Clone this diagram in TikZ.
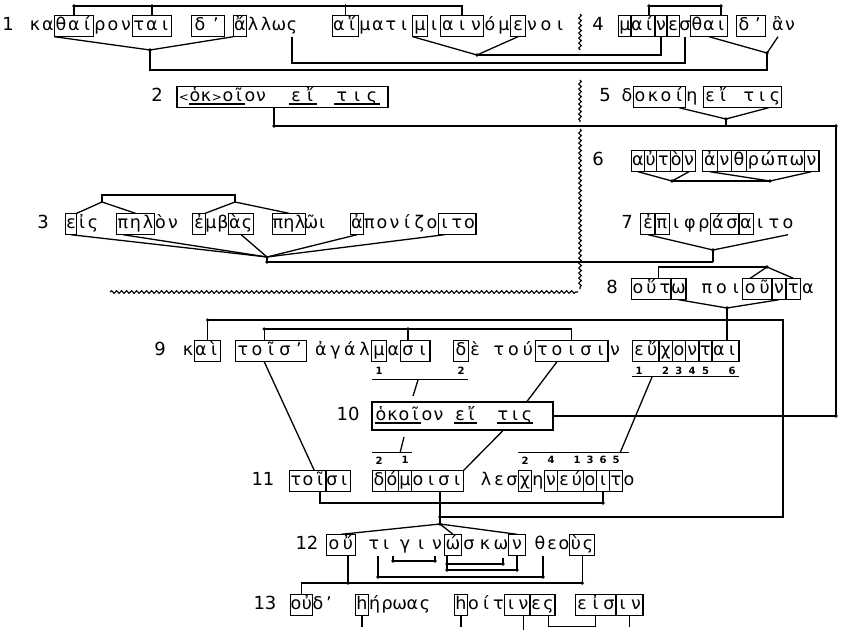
\documentclass[tikz,border=0pt]{standalone}
\usepackage{fontspec}
\setmainfont{DejaVu Sans}
\usetikzlibrary{decorations.pathmorphing}
\tikzset{
  ch/.style={inner sep=0pt, text height=12pt, text depth=4pt, minimum height=21pt, font=\fontsize{17.5}{19}\selectfont},
  num/.style={inner sep=0pt, text height=12pt, text depth=4pt, font=\fontsize{18}{20}\selectfont},
  sm/.style={inner sep=0pt, font=\fontsize{10}{11}\selectfont\bfseries},
  bxs/.style={line width=1.1pt},
  cn/.style={line width=1.3pt},
  wavy/.style={decorate, decoration={snake, amplitude=1.3pt, segment length=5pt}, line width=1.1pt},
}
\newcommand\wrd[5]{\foreach \gl [count=\gi] in {#5}{\node[ch, minimum width=#4pt] (#1-\gi) at ({#2+(\gi-1)*#4},#3) {\gl};}}
\newcommand\bx[3]{\draw[bxs] (#1-#2.north west) rectangle (#1-#3.south east);}
\newcommand\ul[3]{\draw[bxs] ([yshift=-3pt]#1-#2.base west) -- ([yshift=-3pt]#1-#3.base east);}
\newcommand\dt[1]{\fill (#1) circle (1.8pt);}
\newcommand\langl{{\fontsize{12}{13}\selectfont<}}
\newcommand\rangl{{\fontsize{12}{13}\selectfont>}}
\begin{document}
\begin{tikzpicture}[x=1pt,y=-1pt]
\fill[white] (0,0) rectangle (843,635);
\useasboundingbox (0,0) rectangle (843,635);

% ---------- line 1
\node[num] (n1) at (8,26) {1};
\wrd{a}{35}{26}{13}{κ,α,θ,α,ί,ρ,ο,ν,τ,α,ι}
\wrd{b}{200}{26}{16}{δ,’}
\wrd{c}{240}{26}{13}{ἄ,λ,λ,ω,ς}
\wrd{d}{339}{26}{13}{α,ἵ,μ,α,τ,ι}
\wrd{e}{420}{26}{14}{μ,ι,α,ι,ν,ό,μ,ε,ν,ο,ι}
\bx{a}{3}{5}\bx{a}{9}{11}\bx{b}{1}{2}\bx{c}{1}{1}\bx{d}{1}{2}\bx{e}{1}{1}\bx{e}{3}{5}\bx{e}{8}{8}
% ---------- line 4
\node[num] (n4) at (598,26) {4};
\wrd{f}{625}{26}{12}{μ,α,ί,ν,ε,σ,θ,α,ι}
\wrd{g}{744}{26}{14}{δ,’}
\wrd{h}{778}{26}{12}{ἂ,ν}
\bx{f}{1}{1}\bx{f}{2}{3}\bx{f}{4}{4}\bx{f}{5}{5}\bx{f}{7}{9}\bx{g}{1}{2}

\coordinate (t1) at (0,6);
\draw[cn] (a-4.north) -- (a-4.north |- t1) -- (e-4.north |- t1) -- (e-4.north);
\draw[cn] (a-10.north) -- (a-10.north |- t1);
\draw[cn] (d-2.north west) -- (d-2.north west |- t1);
\draw[cn] (f-3.north) -- (f-3.north |- t1) -- (f-9.north |- t1) -- (f-9.north);
\dt{a-4.north |- t1}\dt{a-10.north |- t1}\dt{d-2.north west |- t1}\dt{f-3.north |- t1}\dt{f-9.north |- t1}

\coordinate (j1) at (150,50);
\coordinate (j4) at (767,53);
\coordinate (j4b) at (767,70);
\coordinate (s1) at (0,63);
\coordinate (j1e) at (477,55);
\draw[cn] (a-3.south west) -- (j1) -- (c-1.south west);
\draw[cn] (j1) |- (j4b) -- (j4);
\draw[cn] (f-8.south) -- (j4) -- (h-1.south);
\draw[cn] (c-5.south) -- (c-5.south |- s1) -| (f-6.south);
\draw[cn] (e-1.south west) -- (j1e) -- (e-8.south);
\draw[cn] (j1e) -| (f-4.south);
\dt{j1}\dt{j4}\dt{j1e}

% ---------- wavy separators
\draw[wavy] (580,14) -- (580,50);
\draw[wavy] (580,80) -- (580,122);
\draw[wavy] (580,129) -- (580,289);
\draw[wavy] (110,292) -- (578,292);

% ---------- line 2
\node[num] (n2) at (157,97) {2};
\node[draw, bxs, inner sep=0pt, minimum width=211pt, minimum height=21pt] (box2) at (282.5,97) {};
\wrd{p}{184}{97}{11}{\langl,ὁ,κ,\rangl,ο,ῖ,ο,ν}
\wrd{q}{296}{97}{14}{ε,ἴ}
\wrd{r}{342}{97}{15}{τ,ι,ς}
\ul{p}{2}{6}\ul{q}{1}{2}\ul{r}{1}{3}
\coordinate (L2) at (274,126);
\coordinate (R2) at (836,126);
\draw[cn] (L2 |- box2.south) -- (L2) -- (R2);
\dt{L2}\dt{R2}

% ---------- line 5
\node[num] (n5) at (605,97) {5};
\wrd{s}{627}{97}{13}{δ,ο,κ,ο,ί,η}
\wrd{u}{710}{97}{13}{ε,ἴ,{},τ,ι,ς}
\bx{s}{2}{5}\bx{u}{1}{6}
\coordinate (j5) at (726,119);
\draw[cn] (s-5.south) -- (j5) -- (u-5.south east);
\draw[cn] (j5) -- (j5 |- R2);
\dt{j5}

% ---------- line 3
\node[num] (n3) at (43,224) {3};
\wrd{v1}{71}{224}{11}{ε,ἰ,ς}
\wrd{v2}{123}{224}{12.5}{π,η,λ,ὸ,ν}
\wrd{v3}{199}{224}{12}{ἐ,μ,β,ὰ,ς}
\wrd{v4}{278}{224}{11}{π,η,λ,ῶ,ι}
\wrd{v5}{357}{224}{12.5}{ἀ,π,ο,ν,ί,ζ,ο,ι,τ,ο}
\bx{v1}{1}{1}\bx{v2}{1}{3}\bx{v3}{1}{1}\bx{v3}{4}{5}\bx{v4}{1}{3}\bx{v5}{1}{1}\bx{v5}{8}{10}
\coordinate (t3) at (0,195);
\coordinate (t3a) at (102,202);
\coordinate (t3b) at (235,202);
\draw[cn] (t3a) -- (t3a |- t3) -- (t3b |- t3) -- (t3b);
\draw[cn] (v1-1.north east) -- (t3a) -- (v2-2.north);
\draw[cn] (v3-1.north east) -- (t3b) -- (v4-2.north);
\coordinate (j3) at (267,257);
\coordinate (j3b) at (267,262);
\coordinate (j7b) at (713,262);
\draw[cn] (v1-1.south) -- (j3);
\draw[cn] (v2-1.south) -- (j3);
\draw[cn] (v3-4.south east) -- (j3);
\draw[cn] (v5-1.south) -- (j3);
\draw[cn] (v5-8.south) -- (j3);
\draw[cn] (j3) -- (j3b) -- (j7b);
\dt{j3b}

% ---------- line 6
\node[num] (n6) at (598,161) {6};
\wrd{w1}{638}{161}{12.75}{α,ὐ,τ,ὸ,ν}
\wrd{w2}{710}{161}{14.5}{ἀ,ν,θ,ρ,ώ,π,ω,ν}
\bx{w1}{1}{5}\bx{w1}{1}{1}\bx{w1}{3}{3}\bx{w1}{5}{5}
\bx{w2}{1}{8}\bx{w2}{1}{1}\bx{w2}{3}{3}\bx{w2}{8}{8}
\coordinate (j6a) at (672,181);
\coordinate (j6b) at (770,181);
\draw[cn] (w1-1.south) -- (j6a) -- (w1-5.south);
\draw[cn] (w2-1.south) -- (j6b) -- (w2-8.south);
\draw[cn] (j6a) -- (j6b);
\dt{j6a}\dt{j6b}

% ---------- line 7
\node[num] (n7) at (627,224) {7};
\wrd{x}{648}{224}{14}{ἐ,π,ι,φ,ρ,ά,σ,α,ι,τ,ο}
\bx{x}{1}{1}\bx{x}{2}{2}\bx{x}{6}{7}\bx{x}{8}{8}
\coordinate (j7) at (713,250);
\draw[cn] (x-1.south) -- (j7) -- (x-11.south);
\draw[cn] (j7) -- (j7b);
\dt{j7}

% ---------- line 8
\node[num] (n8) at (612,289) {8};
\wrd{y1}{638}{289}{13.5}{ο,ὕ,τ,ω}
\wrd{y2}{707}{289}{14.4}{π,ο,ι,ο,ῦ,ν,τ,α}
\bx{y1}{1}{4}\bx{y1}{4}{4}\bx{y2}{4}{5}\bx{y2}{6}{6}\bx{y2}{7}{7}
\coordinate (t8) at (767,267);
\draw[cn] (y1-2.north east) |- (t8);
\draw[cn] (y2-4.north) -- (t8) -- (y2-7.north);
\dt{t8}
\coordinate (j8) at (727,308);
\coordinate (j8b) at (727,320);
\coordinate (R8) at (783,320);
\coordinate (R12) at (783,517);
\coordinate (j12a) at (440,517);
\coordinate (j12) at (440,524);
\coordinate (j11) at (440,503);
\draw[cn] (y1-4.south) -- (j8) -- (y2-6.south);
\dt{j8}\dt{j8b}

% ---------- line 9
\node[num] (n9) at (160,351) {9};
\wrd{z1}{188}{351}{13}{κ,α,ὶ}
\wrd{z2}{243}{351}{14}{τ,ο,ῖ,σ,’}
\wrd{z3}{321}{351}{14.5}{ἀ,γ,ά,λ,μ,α,σ,ι}
\wrd{z4}{461}{351}{14}{δ,ὲ}
\wrd{z5}{499}{351}{14.5}{τ,ο,ύ,τ,ο,ι,σ,ι,ν}
\wrd{z6}{639}{351}{13.3}{ε,ὔ,χ,ο,ν,τ,α,ι}
\bx{z1}{2}{3}\bx{z2}{1}{5}\bx{z3}{5}{5}\bx{z3}{7}{8}\bx{z4}{1}{1}\bx{z5}{4}{8}
\bx{z6}{1}{2}\bx{z6}{3}{3}\bx{z6}{4}{4}\bx{z6}{5}{5}\bx{z6}{6}{6}\bx{z6}{7}{8}
\coordinate (t9) at (0,320);
\coordinate (t9b) at (0,329);
\draw[cn] (z1-2.north east) -- (z1-2.north east |- t9) -- (R8) -- (R12) -- (j12a);
\draw[cn] (j8) -- (j8 |- z6-7.north);
\draw[cn] (z2-2.north east) -- (z2-2.north east |- t9b) -- (z5-6.north |- t9b) -- (z5-6.north);
\draw[cn] (z3-7.north) -- (z3-7.north |- t9b);
\dt{z1-2.north east |- t9}\dt{z2-2.north east |- t9b}\dt{z3-7.north |- t9b}
% numbering under line 9
\node[sm] (k9a) at ([yshift=-9pt]z3-5.south) {1};
\node[sm] (k9b) at ([yshift=-9pt]z4-1.south) {2};
\draw[bxs] ([yshift=-18pt]z3-5.south west) -- ([yshift=-18pt]z4-1.south east);
\foreach \k/\nm in {1/1,3/2,4/3,5/4,6/5,8/6}{\node[sm] (e9-\nm) at ([yshift=-9pt]z6-\k.south) {\nm};}
\draw[bxs] ([yshift=-15pt]z6-1.south west) -- ([yshift=-15pt]z6-8.south east);
\coordinate (u9a) at (418,380);
\coordinate (u9b) at (413,396);
\draw[cn] (u9a) -- (u9b);
\coordinate (u9c) at (652,377);
\coordinate (u11c) at (620,453);
\draw[cn] (u9c) -- (u11c);

% ---------- line 10
\node[num] (n10) at (348,416) {10};
\node[draw, bxs, inner sep=0pt, minimum width=181pt, minimum height=28pt] (box10) at (462.5,416) {};
\wrd{m1}{381}{416}{11.5}{ὁ,κ,ο,ῖ,ο,ν}
\wrd{m2}{460}{416}{11.5}{ε,ἴ}
\wrd{m3}{503}{416}{12}{τ,ι,ς}
\ul{m1}{1}{4}\ul{m2}{1}{2}\ul{m3}{1}{3}
\coordinate (R10) at (836,416);
\draw[cn] (box10.east) -- (R10) -- (R2);
\dt{R10}
\draw[cn] (z5-5.south) -- (m3-3 |- box10.north);

% ---------- line 11
\node[num] (n11) at (263,481) {11};
\wrd{o1}{296}{481}{12}{τ,ο,ῖ,σ,ι}
\wrd{o2}{379}{481}{13}{δ,ό,μ,ο,ι,σ,ι}
\wrd{o3}{486}{481}{13}{λ,ε,σ,χ,η,ν,ε,ύ,ο,ι,τ,ο}
\bx{o1}{1}{3}\bx{o1}{4}{5}
\bx{o2}{1}{1}\bx{o2}{2}{2}\bx{o2}{3}{3}\bx{o2}{4}{7}
\bx{o3}{4}{4}\bx{o3}{6}{6}\bx{o3}{7}{8}\bx{o3}{9}{9}\bx{o3}{10}{10}\bx{o3}{11}{11}
\draw[cn] (z2-2.south east) -- (o1-2.north east);
\draw[cn] (m3-1 |- box10.south) -- (o2-7.north east);
\node[sm] (k11a) at ([yshift=10pt]o2-1.north) {2};
\node[sm] (k11b) at ([yshift=10pt]o2-3.north) {1};
\draw[bxs] ([yshift=18pt]o2-1.north west) -- ([yshift=18pt]o2-3.north east);
\coordinate (u11a) at (400,453);
\coordinate (u11b) at (404,437);
\draw[cn] (u11a) -- (u11b);
\foreach \k/\nm in {4/2,6/4,8/1,9/3,10/6,11/5}{\node[sm] (e11-\nm) at ([yshift=10pt]o3-\k.north) {\nm};}
\draw[bxs] ([yshift=18pt]o3-4.north west) -- ([yshift=18pt]o3-12.north);
\coordinate (b11) at (0,503);
\draw[cn] (o1-3.south) -- (o1-3.south |- b11) -- (o3-10.south |- b11) -- (o3-10.south);
\draw[cn] (j11 |- o2-5.south) -- (j12);
\dt{j11}\dt{o3-10.south |- b11}\dt{j12a}

% ---------- line 12
\node[num] (n12) at (307,545) {12};
\wrd{q1}{334}{545}{14}{ο,ὔ}
\wrd{q2}{374}{545}{12}{τ,ι}
\wrd{q3}{405}{545}{16}{γ,ι,ν,ώ,σ,κ,ω,ν}
\wrd{q4}{540}{545}{12}{θ,ε,ο,ὺ,ς}
\bx{q1}{1}{2}\bx{q3}{4}{4}\bx{q3}{8}{8}\bx{q4}{4}{5}
\draw[cn] (j12) -- (q1-1.north east);
\draw[cn] (j12) -- (q3-4.north);
\draw[cn] (j12) -- (q3-8.north);
\dt{j12}
\coordinate (ba1) at (393,556);\coordinate (ba2) at (393,561);\coordinate (ba3) at (435,561);\coordinate (ba4) at (435,556);
\coordinate (bb1) at (447,556);\coordinate (bb2) at (447,564);\coordinate (bb3) at (503,564);\coordinate (bb4) at (503,558);
\coordinate (bc2) at (447,570);\coordinate (bc3) at (517,570);\coordinate (bc4) at (517,556);
\coordinate (bd1) at (378,556);\coordinate (bd2) at (378,577);\coordinate (bd3) at (543,577);\coordinate (bd4) at (543,556);
\draw[cn] (ba1) -- (ba2) -- (ba3) -- (ba4);
\draw[cn] (bb1) -- (bb2) -- (bb3) -- (bb4);
\draw[cn] (bb2) -- (bc2) -- (bc3) -- (bc4);
\draw[cn] (bd1) -- (bd2) -- (bd3) -- (bd4);
\dt{ba2}\dt{ba3}\dt{bb2}\dt{bb3}\dt{bc2}\dt{bc3}\dt{bd2}\dt{bd3}
\coordinate (bl) at (300,583);

% ---------- line 13
\node[num] (n13) at (265,605) {13};
\wrd{r1}{296}{605}{11}{ο,ὐ,δ,’}
\wrd{r2}{362}{605}{12.6}{h,ή,ρ,ω,α,ς}
\wrd{r3}{461}{605}{12.5}{h,ο,ί,τ,ι,ν,ε,ς}
\wrd{r4}{582}{605}{13.5}{ε,ἰ,σ,ι,ν}
\bx{r1}{1}{2}\bx{r2}{1}{1}\bx{r3}{1}{1}\bx{r3}{5}{6}\bx{r3}{7}{8}\bx{r4}{1}{3}\bx{r4}{4}{5}
\draw[cn] (r1-1.north east) -- (r1-1.north east |- bl) -- (q4-4.south east |- bl) -- (q4-4.south east);
\draw[cn] (q1-2.south) -- (q1-2.south |- bl);
\dt{q1-2.south |- bl}\dt{q4-4.south east |- bl}
\draw[cn] (r2-1.south) -- ++(0,11);
\draw[cn] (r3-1.south) -- ++(0,11);
\draw[cn] (r3-6.south) -- ++(0,14);
\draw[cn] (r4-4.south east) -- ++(0,11);
\draw[cn] (r3-8.south) -- ++(0,11) -| (r4-2.south);
\end{tikzpicture}
\end{document}
